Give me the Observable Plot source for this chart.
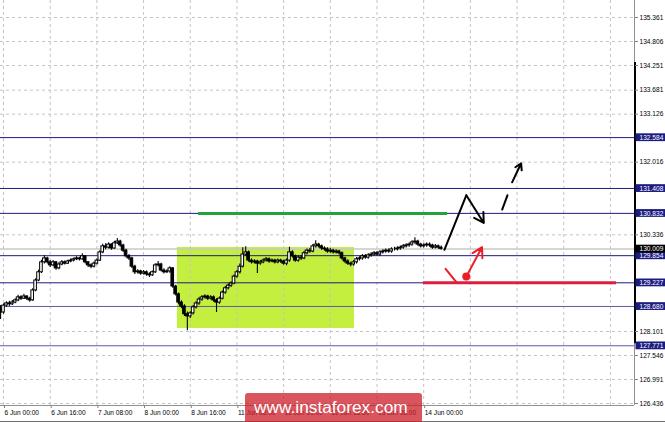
<!DOCTYPE html>
<html><head><meta charset="utf-8">
<script src="https://cdn.jsdelivr.net/npm/d3@7"></script>
<script src="https://cdn.jsdelivr.net/npm/@observablehq/plot@0.6"></script>
<style>
html,body{margin:0;padding:0;background:#fff;overflow:hidden}
#wrap{position:relative;width:665px;height:422px}
#wrap svg{display:block}
#edge{position:absolute;left:0;top:421px;width:665px;height:1px;background:#707070}
#wm{position:absolute;left:245px;top:393px;width:177px;height:29px;background:rgba(205,30,40,0.75);border-radius:3px 3px 0 0;color:#fff;
font-family:"Liberation Sans",Arial,sans-serif;font-size:17.3px;line-height:20px;box-sizing:border-box;padding:4px 0 0 9px;white-space:nowrap}
</style></head>
<body>
<div id="wrap"><div id="edge"></div><div id="wm">www.instaforex.com</div></div>
<script>
// ---- scales / ticks ----
const xDomain = [-1.03, 216.25];          // hourly bar index (0 = 6 Jun 00:00)
const yDomain = [126.39, 135.754];
const xTickBars = [0, 16, 32, 48, 64, 80, 96, 112, 128, 144];
const xTickLabels = ["6 Jun 00:00","6 Jun 16:00","7 Jun 08:00","8 Jun 00:00","8 Jun 16:00","11 Jun 08:00","12 Jun 00:00","12 Jun 16:00","13 Jun 08:00","14 Jun 00:00"];
const gridBars = [0,16,32,48,64,80,96,112,128,144,160,176,192,208];
const yTicks = [135.361,134.806,134.251,133.681,133.126,132.016,130.336,128.101,127.546,126.991,126.436];
const levels = [132.584,131.408,130.832,129.854,129.227,128.680,127.771];
const bidPrice = 130.009;

// ---- candles (bars -1 .. 150) ----
const firstBar = -1;
const firstOpen = 128.63;
const closes = [128.54,128.70,128.75,128.73,128.77,128.82,128.89,128.86,128.91,128.86,128.82,129.05,129.28,129.47,129.70,129.79,129.70,129.63,129.70,129.56,129.65,129.70,129.67,129.72,129.74,129.77,129.79,129.77,129.84,129.70,129.63,129.60,129.67,129.74,129.93,130.07,130.04,130.11,130.02,130.14,130.18,130.09,129.97,129.84,129.79,129.60,129.47,129.49,129.44,129.47,129.42,129.40,129.47,129.63,129.65,129.51,129.47,129.49,129.56,129.14,128.96,128.77,128.68,128.50,128.45,128.52,128.66,128.75,128.84,128.89,128.91,128.86,128.89,128.82,128.77,128.86,129.00,129.10,129.16,129.21,129.37,129.47,129.60,129.88,129.93,129.74,129.70,129.72,129.67,129.70,129.74,129.77,129.72,129.74,129.70,129.74,129.72,129.67,129.74,129.93,129.84,129.74,129.81,129.79,129.91,129.97,129.95,130.07,130.11,130.07,130.02,130.00,129.95,129.97,129.93,129.95,129.91,129.79,129.72,129.67,129.65,129.70,129.77,129.79,129.84,129.81,129.86,129.88,129.91,129.88,129.93,129.95,129.97,129.95,130.00,130.00,130.02,130.04,130.07,130.09,130.11,130.16,130.18,130.11,130.07,130.09,130.11,130.09,130.04,130.07,130.04,130.01];
const highs = [128.70,128.74,128.79,128.80,128.82,128.86,128.94,128.93,128.96,128.93,128.89,129.09,129.32,129.52,129.75,129.86,129.82,129.74,129.74,129.72,129.69,129.74,129.73,129.75,129.78,129.80,129.83,129.82,129.90,129.86,129.72,129.66,129.71,129.78,129.97,130.12,130.13,130.15,130.13,130.19,130.25,130.21,130.12,130.00,129.88,129.82,129.63,129.53,129.52,129.51,129.50,129.46,129.50,129.67,129.72,129.68,129.55,129.53,129.60,129.58,129.17,128.99,128.81,128.72,128.55,128.56,128.70,128.79,128.88,128.93,128.95,128.94,128.93,128.92,128.86,128.90,129.04,129.14,129.20,129.25,129.41,129.51,129.66,130.04,130.06,129.96,129.78,129.76,129.75,129.74,129.78,129.81,129.80,129.78,129.77,129.78,129.77,129.75,129.78,130.05,129.97,129.87,129.85,129.86,129.95,130.01,130.02,130.11,130.20,130.14,130.10,130.06,130.04,130.02,130.00,129.99,129.98,129.94,129.82,129.76,129.70,129.74,129.81,129.83,129.88,129.88,129.90,129.92,129.95,129.95,129.97,129.99,130.01,130.01,130.04,130.05,130.06,130.08,130.11,130.13,130.15,130.20,130.27,130.21,130.14,130.13,130.15,130.15,130.12,130.11,130.10,130.08];
const lows = [128.38,128.50,128.66,128.68,128.70,128.74,128.79,128.82,128.84,128.82,128.78,128.80,129.02,129.25,129.44,129.66,129.66,129.58,129.60,129.52,129.53,129.62,129.64,129.65,129.69,129.71,129.74,129.73,129.75,129.66,129.58,129.55,129.57,129.64,129.72,129.90,129.99,130.01,129.98,130.00,130.11,130.05,129.93,129.80,129.74,129.56,129.42,129.43,129.40,129.41,129.38,129.35,129.37,129.44,129.59,129.48,129.43,129.44,129.45,129.10,128.92,128.72,128.63,128.45,128.12,128.40,128.48,128.62,128.71,128.80,128.85,128.82,128.83,128.78,128.54,128.73,128.83,128.96,129.06,129.12,129.18,129.33,129.43,129.57,129.84,129.70,129.66,129.66,129.44,129.63,129.67,129.71,129.68,129.69,129.66,129.67,129.68,129.63,129.62,129.70,129.80,129.70,129.70,129.74,129.76,129.87,129.91,129.92,130.03,130.03,129.98,129.96,129.91,129.91,129.89,129.89,129.87,129.75,129.68,129.63,129.60,129.61,129.66,129.73,129.75,129.77,129.77,129.82,129.84,129.84,129.84,129.89,129.91,129.91,129.91,129.96,129.96,129.98,130.00,130.03,130.05,130.07,130.12,130.07,130.03,130.03,130.05,130.05,130.00,130.01,130.00,129.98];

// ---- drawn objects ----
const zone = {from: 59.6, to: 120.3, low: 128.17, high: 130.043};
const greenLevel = {from: 66.8, to: 152.2, price: 130.832};
const redLevel = {from: 143.9, to: 210.1, price: 129.227};
const pathUp = [{i: 151.1, p: 129.99}, {i: 158.6, p: 131.25}];
const pathDown = {i1: 158.6, p1: 131.25, i2: 164.6, p2: 130.61};
const dashPart = [{i: 170.9, p: 130.92}, {i: 172.7, p: 131.25}];
const dashArrow = {i1: 174.3, p1: 131.55, i2: 177.4, p2: 131.99};
const redTick = [{i: 151.5, p: 129.55}, {i: 155.2, p: 129.24}];
const redDot = {i: 158.6, p: 129.37};
const redArrow = {i1: 158.6, p1: 129.37, i2: 164.0, p2: 130.05};
const scaleBar = {y1: 127.82, y2: 134.32};

const navy = "#1c1c80";
const bars = closes.map((c, k) => ({
  i: firstBar + k, open: k ? closes[k - 1] : firstOpen, close: c, high: highs[k], low: lows[k]
}));
const labelOf = new Map(xTickBars.map((b, k) => [b, xTickLabels[k]]));

const chart = Plot.plot({
  width: 665, height: 422,
  marginLeft: 0, marginRight: 31, marginTop: 0, marginBottom: 17,
  style: {fontFamily: '"Liberation Sans", Arial, sans-serif', fontSize: "6.6px", background: "#fff", color: "#000"},
  x: {domain: xDomain, axis: null},
  y: {domain: yDomain, axis: null},
  marks: [
    Plot.rect([zone], {x1: "from", x2: "to", y1: "low", y2: "high", fill: "#c4ef3f"}),
    Plot.gridX(gridBars, {stroke: "#c4c4c4", strokeOpacity: 1, strokeDasharray: "3,3"}),
    Plot.gridY(yTicks, {stroke: "#c4c4c4", strokeOpacity: 1, strokeDasharray: "3,3"}),
    Plot.ruleY([bidPrice], {stroke: "#c8c8c8", strokeWidth: 1.6}),
    Plot.ruleY(levels, {stroke: d => d < 128.9 ? "#5a5aa6" : navy, strokeWidth: 1}),
    Plot.ruleY([greenLevel], {y: "price", x1: "from", x2: "to", stroke: "#22a33c", strokeWidth: 3}),
    Plot.ruleY([redLevel], {y: "price", x1: "from", x2: "to", stroke: "#dc1f3f", strokeWidth: 3}),
    Plot.ruleX(bars, {x: "i", y1: "low", y2: "high", stroke: "#000", strokeWidth: 1.1}),
    Plot.rect(bars, {x1: d => d.i - 0.5, x2: d => d.i + 0.5, y1: "open", y2: "close", insetLeft: 0.15, insetRight: 0.15,
      fill: d => d.close > d.open ? "#fff" : "#000", stroke: "#000", strokeWidth: 1}),
    Plot.line(pathUp, {x: "i", y: "p", stroke: "#000", strokeWidth: 2}),
    Plot.arrow([pathDown], {x1: "i1", y1: "p1", x2: "i2", y2: "p2", stroke: "#000", strokeWidth: 2, headLength: 9}),
    Plot.line(dashPart, {x: "i", y: "p", stroke: "#000", strokeWidth: 2}),
    Plot.arrow([dashArrow], {x1: "i1", y1: "p1", x2: "i2", y2: "p2", stroke: "#000", strokeWidth: 2, headLength: 9}),
    Plot.line(redTick, {x: "i", y: "p", stroke: "#ee1c25", strokeWidth: 2}),
    Plot.arrow([redArrow], {x1: "i1", y1: "p1", x2: "i2", y2: "p2", stroke: "#ee1c25", strokeWidth: 2, headLength: 9}),
    Plot.dot([redDot], {x: "i", y: "p", r: 4, fill: "#ee1c25"}),
    Plot.ruleY([yDomain[0]], {stroke: "#909090"}),
    Plot.ruleX([xDomain[1]], {stroke: "#909090"}),
    Plot.ruleX([scaleBar], {x: () => xDomain[1], y1: "y1", y2: "y2", stroke: "#000", strokeWidth: 2, dx: 0.5}),
    Plot.axisX(xTickBars, {anchor: "bottom", tickSize: 3, tickPadding: 2, textAnchor: "start", dx: 1,
      tickFormat: d => labelOf.get(d), stroke: "#808080", fill: "#000"}),
    Plot.axisY(yTicks, {anchor: "right", tickSize: 3, tickPadding: 2, tickFormat: d => d.toFixed(3), stroke: "#808080", fill: "#000"}),
    Plot.text(levels.concat([bidPrice]), {y: d => d, frameAnchor: "right", dx: 5, textAnchor: "start",
      text: d => d.toFixed(3), fill: "white"})
  ]
});

const wrap = document.getElementById("wrap");
wrap.insertBefore(chart, wrap.firstChild);
const bidLabel = bidPrice.toFixed(3);
chart.querySelectorAll('g[fill="white"] text').forEach(t => {
  const bb = t.getBBox();
  const r = document.createElementNS("http://www.w3.org/2000/svg", "rect");
  const tr = t.getAttribute("transform");
  if (tr) r.setAttribute("transform", tr);
  r.setAttribute("x", bb.x - 4);
  r.setAttribute("y", bb.y + bb.height / 2 - 3.9);
  r.setAttribute("width", 40);
  r.setAttribute("height", 7.8);
  r.setAttribute("fill", t.textContent === bidLabel ? "#000" : navy);
  t.parentNode.insertBefore(r, t);
});
</script>
</body></html>
